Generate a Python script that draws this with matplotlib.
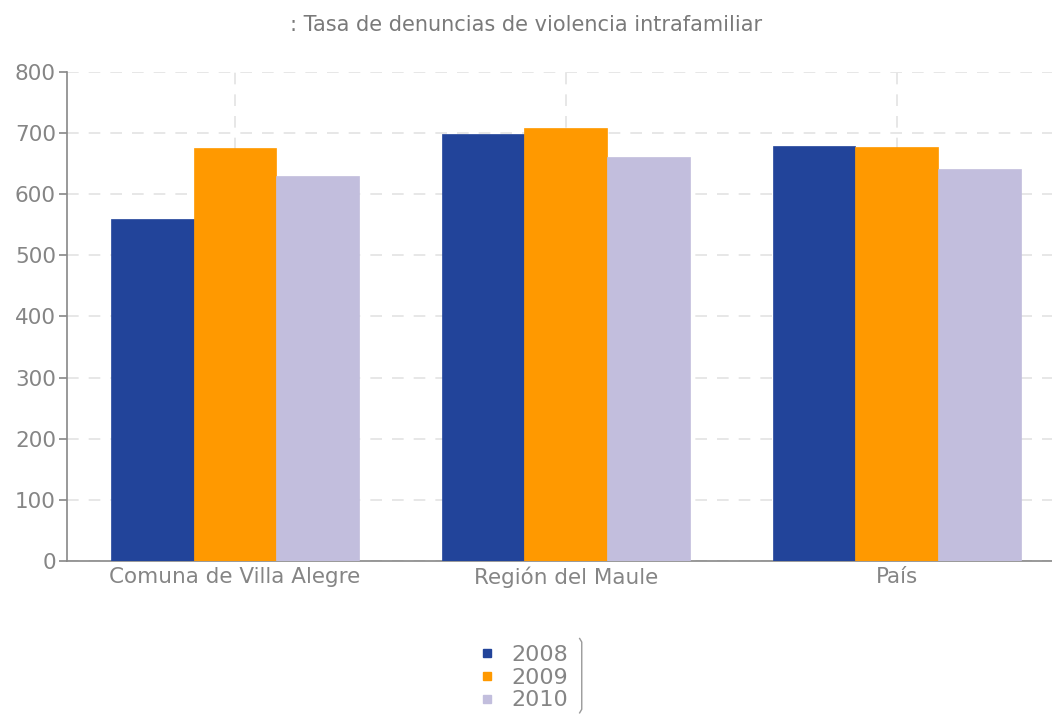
import numpy as np
import matplotlib
matplotlib.use('Agg')
import matplotlib.pyplot as plt
from matplotlib.lines import Line2D

categories = ['Comuna de Villa Alegre', 'Región del Maule', 'País']
years = ['2008', '2009', '2010']
v2008 = [560, 699, 679]
v2009 = [676, 709, 677]
v2010 = [630, 661, 641]
colors = ['#22449a', '#ff9900', '#c2bedd']

fig = plt.figure(figsize=(10.52, 7.15), dpi=100)
ax = fig.add_axes([0.0637, 0.2154, 0.9363, 0.6839])

x = np.arange(len(categories))
w = 0.25
for i, (vals, c) in enumerate(zip([v2008, v2009, v2010], colors)):
    ax.bar(x + (i - 1) * w, vals, w, color=c, edgecolor=c, linewidth=0.5,
           label=years[i], zorder=3)

ax.set_ylim(0, 800)
ax.set_xlim(-0.508, 2.47)
ax.set_yticks(range(0, 801, 100))
ax.set_xticks(x)
ax.set_xticklabels(categories)

ax.grid(True, color='#e3e3e3', linestyle=(0, (7, 6)), linewidth=1.2, zorder=0)
for s in ['top', 'right']:
    ax.spines[s].set_visible(False)
for s in ['left', 'bottom']:
    ax.spines[s].set_color('#888888')
    ax.spines[s].set_linewidth(1.2)

ax.tick_params(axis='y', colors='#888888', length=6, width=1.2, labelsize=15.5,
               labelcolor='#858585', pad=2)
ax.tick_params(axis='x', length=0, labelsize=15.5, labelcolor='#858585', pad=4)

fig.text(0.5, 0.965, ': Tasa de denuncias de violencia intrafamiliar',
         ha='center', va='center', fontsize=15, color='#7a7a7a')

handles = [Line2D([], [], marker='s', linestyle='none', markersize=6,
                  markerfacecolor=c, markeredgecolor=c) for c in colors]
leg = fig.legend(handles, years, loc='center', bbox_to_anchor=(0.497, 0.052),
                 frameon=False, fontsize=16, labelspacing=0.12, handlelength=0.8,
                 handletextpad=0.7)
for t in leg.get_texts():
    t.set_color('#858585')

# bracket at right of legend
fig.add_artist(Line2D([0.551, 0.553, 0.553, 0.551], [0.107, 0.102, 0.008, 0.003],
                      transform=fig.transFigure, color='#999999', linewidth=1))

fig.savefig('out.png', dpi=100)
